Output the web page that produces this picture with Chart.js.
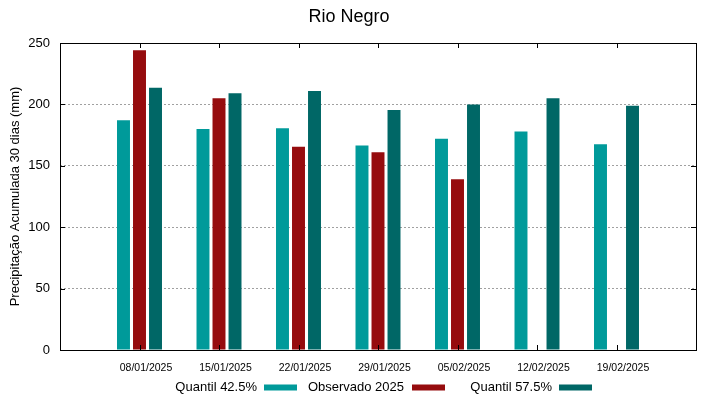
<!DOCTYPE html>
<html>
<head>
<meta charset="utf-8">
<script src="https://cdn.jsdelivr.net/npm/chart.js@4/dist/chart.umd.min.js"></script>
<style>
  html, body { margin: 0; padding: 0; background: #fff; }
  #wrap { width: 719px; height: 399px; position: relative; }
</style>
</head>
<body>
<div id="wrap"><canvas id="c" width="719" height="399"></canvas></div>
<script>
const chartTitle = "Rio Negro";
const yAxisTitle = "Precipitação Acumulada 30 dias (mm)";
const categories = ["08/01/2025", "15/01/2025", "22/01/2025", "29/01/2025", "05/02/2025", "12/02/2025", "19/02/2025"];
const seriesNames = ["Quantil 42.5%", "Observado 2025", "Quantil 57.5%"];
const quantil425 = [187, 180, 180.5, 166.5, 172, 178, 167.5];
const observado2025 = [244, 205, 165.5, 161, 139, null, null];
const quantil575 = [213.5, 209, 211, 195.5, 200, 205, 199];
const yTicks = [0, 50, 100, 150, 200, 250];

const colors = ["#009a9a", "#960c0e", "#006766"];
const seriesValues = [quantil425, observado2025, quantil575];

const toPoints = arr => arr.map((v, i) => ({ x: i + 1, y: v }));

const FONT = "'Liberation Sans', Arial, sans-serif";

const framePlugin = {
  id: 'frame',
  afterDatasetsDraw(chart) {
    const { ctx, chartArea: a, scales } = chart;
    ctx.save();
    ctx.strokeStyle = '#000';
    ctx.lineWidth = 1;
    ctx.strokeRect(Math.round(a.left) + 0.5, Math.round(a.top) + 0.5, Math.round(a.right - a.left), Math.round(a.bottom - a.top));
    ctx.beginPath();
    categories.forEach((c, i) => {
      const px = Math.round(scales.x.getPixelForValue(i + 1)) + 0.5;
      ctx.moveTo(px, a.bottom); ctx.lineTo(px, a.bottom - 5);
      ctx.moveTo(px, a.top); ctx.lineTo(px, a.top + 5);
    });
    yTicks.forEach(v => {
      const py = Math.round(scales.y.getPixelForValue(v)) + 0.5;
      ctx.moveTo(a.left, py); ctx.lineTo(a.left + 5, py);
      ctx.moveTo(a.right, py); ctx.lineTo(a.right - 5, py);
    });
    ctx.stroke();
    ctx.restore();
  },
  afterDraw(chart) {
    const { ctx } = chart;
    ctx.save();
    ctx.fillStyle = '#000';
    ctx.font = "18px " + FONT;
    ctx.textAlign = 'center';
    ctx.textBaseline = 'middle';
    ctx.fillText(chartTitle, 349, 17);
    ctx.font = "13px " + FONT;
    ctx.textAlign = 'right';
    const textRight = [257, 404, 552];
    const swL = [264, 412, 559];
    const y = 387.5;
    seriesNames.forEach((n, i) => {
      ctx.fillStyle = '#000';
      ctx.fillText(n, textRight[i], y);
      ctx.fillStyle = colors[i];
      ctx.fillRect(swL[i], y - 3, 33, 6);
    });
    ctx.restore();
  }
};

new Chart(document.getElementById('c'), {
  type: 'bar',
  data: {
    datasets: seriesValues.map((vals, i) => ({
      label: seriesNames[i],
      data: toPoints(vals),
      backgroundColor: colors[i],
      borderWidth: 0,
      categoryPercentage: 0.604,
      barPercentage: 0.81
    }))
  },
  options: {
    responsive: false,
    animation: false,
    devicePixelRatio: 1,
    layout: { padding: { left: 0, right: 23, top: 43, bottom: 0 } },
    plugins: { legend: { display: false }, title: { display: false }, tooltip: { enabled: false } },
    scales: {
      x: {
        type: 'linear',
        offset: false,
        min: 0, max: 8,
        afterBuildTicks(scale) { scale.ticks = categories.map((c, i) => ({ value: i + 1 })); },
        afterFit(scale) { scale.height = 49; },
        grid: { display: false, drawTicks: false, offset: false },
        border: { display: false },
        ticks: {
          autoSkip: false, maxRotation: 0, padding: 12, labelOffset: 6.5,
          color: '#000',
          font: { family: FONT, size: 10.5 },
          callback: (v) => categories[v - 1] ?? ''
        }
      },
      y: {
        min: 0, max: 250,
        afterBuildTicks(scale) { scale.ticks = yTicks.map(v => ({ value: v })); },
        afterFit(scale) { scale.width = 60; },
        grid: { color: '#a0a0a0', lineWidth: 1, drawTicks: false },
        border: { display: false, dash: [2, 2] },
        ticks: { padding: 10, color: '#000', font: { family: FONT, size: 13 } },
        title: { display: true, text: yAxisTitle, color: '#000', font: { family: FONT, size: 13 }, padding: { top: 8, bottom: 0 } }
      }
    }
  },
  plugins: [framePlugin]
});
</script>
</body>
</html>
